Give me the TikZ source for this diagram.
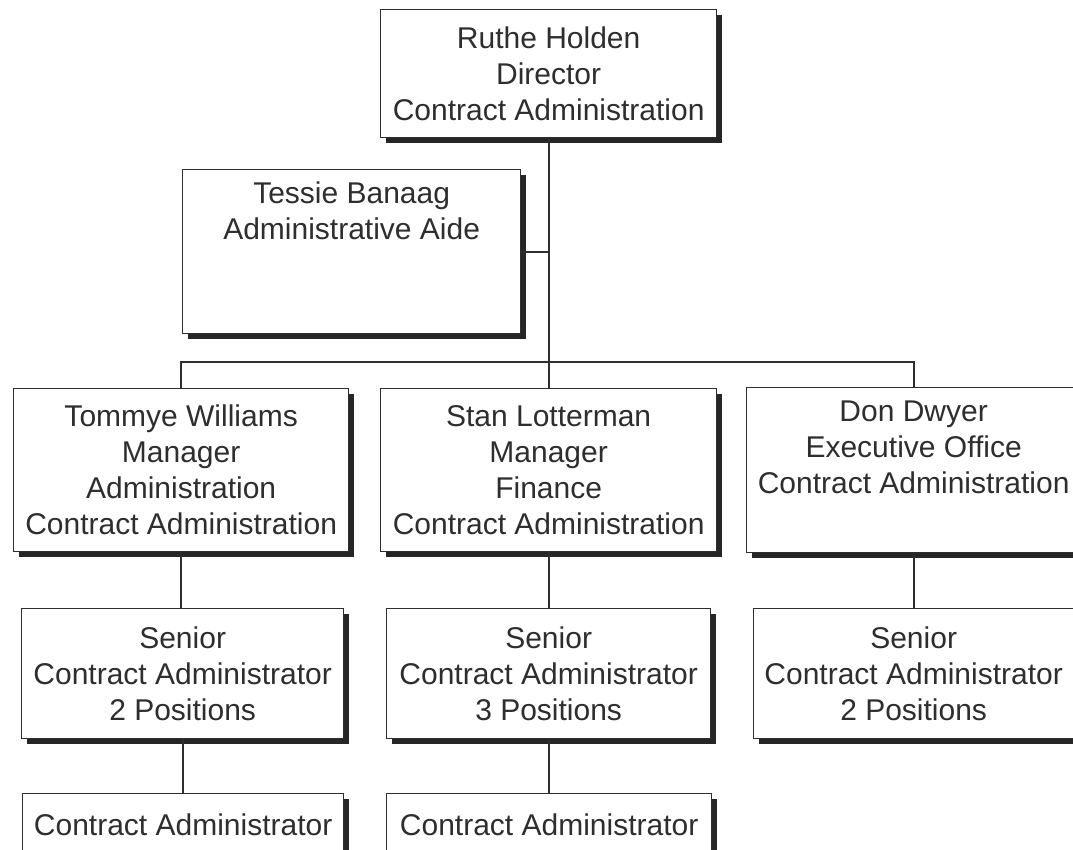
\documentclass[tikz,border=0pt]{standalone}
\usepackage{fontspec}
\setmainfont{Liberation Sans}
\usetikzlibrary{shadows}
\definecolor{ink}{HTML}{2E2E2E}
\tikzset{
  box/.style={draw=ink, line width=1.3pt, fill=white, anchor=north west,
    align=center, inner sep=0pt, text=ink,
    font=\fontsize{30}{36}\selectfont,
    drop shadow={shadow xshift=5pt, shadow yshift=-5pt, fill=black!85, opacity=1}},
  conn/.style={draw=ink, line width=2pt}
}
\begin{document}
\begin{tikzpicture}[x=1pt, y=-1pt]
\useasboundingbox[fill=white] (0,0) rectangle (1073,850);
% boxes
\node[box, minimum width=336pt, minimum height=128pt] (dir) at (380,9)
  {Ruthe Holden\\Director\\Contract Administration};
\node[box, minimum width=338pt, minimum height=164pt] (tes) at (182,169)
  {Tessie Banaag\\Administrative Aide\\[0pt]\strut\\\strut};
\node[box, minimum width=335pt, minimum height=163pt] (tw) at (13,388)
  {Tommye Williams\\Manager\\Administration\\Contract Administration};
\node[box, minimum width=336pt, minimum height=163pt] (sl) at (380,388)
  {Stan Lotterman\\Manager\\Finance\\Contract Administration};
\node[box, minimum width=334pt, minimum height=165pt] (dd) at (746,387)
  {Don Dwyer\\Executive Office\\Contract Administration\\\strut};
\node[box, minimum width=322pt, minimum height=130pt] (s1) at (21,608)
  {Senior\\Contract Administrator\\2 Positions};
\node[box, minimum width=324pt, minimum height=130pt] (s2) at (386,608)
  {Senior\\Contract Administrator\\3 Positions};
\node[box, minimum width=320pt, minimum height=130pt] (s3) at (753,608)
  {Senior\\Contract Administrator\\2 Positions};
\node[box, minimum width=321pt, minimum height=62pt] (c1) at (22,793)
  {Contract Administrator};
\node[box, minimum width=325pt, minimum height=62pt] (c2) at (386,793)
  {Contract Administrator};
% connectors
\coordinate (bus) at (0,362);
\begin{scope}[on background layer/.try]
\end{scope}
\draw[conn] (dir.south) -- (sl.north);
\draw[conn] (tes.east) -- (tes.east -| dir.south);
\draw[conn] (tw.north) -- (tw.north |- bus) -- (dd.north |- bus) -- (dd.north);
\draw[conn] (tw.south) -- (tw.south |- s1.north);
\draw[conn] (sl.south) -- (sl.south |- s2.north);
\draw[conn] (dd.south) -- (dd.south |- s3.north);
\draw[conn] (s1.south) -- (s1.south |- c1.north);
\draw[conn] (s2.south) -- (s2.south |- c2.north);
\end{tikzpicture}
\end{document}
